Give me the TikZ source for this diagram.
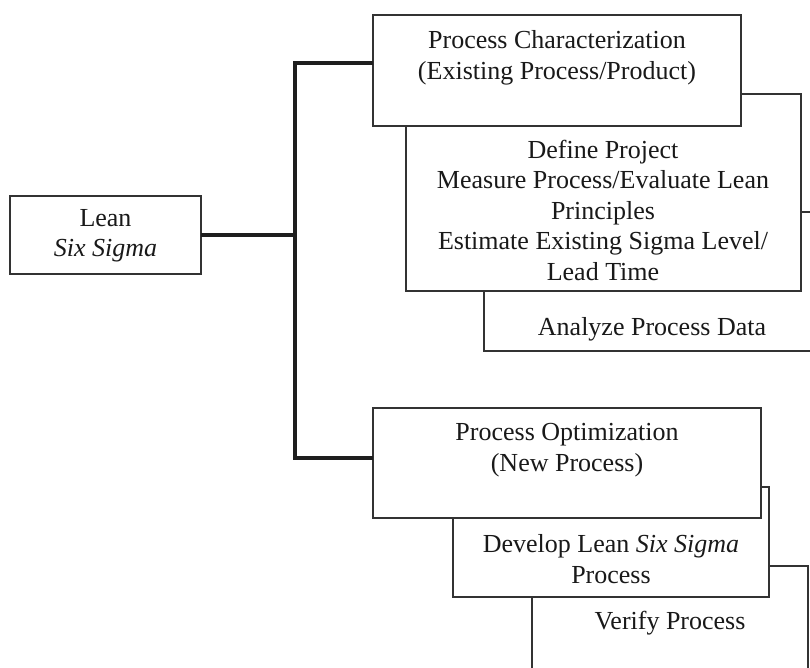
\documentclass[tikz,border=0pt]{standalone}
\usepackage{fontspec}
\setmainfont{Liberation Serif}
\definecolor{boxgray}{HTML}{333333}
\definecolor{conncol}{HTML}{1E1E1E}
\begin{document}
\begin{tikzpicture}[x=1pt,y=-1pt,
  box/.style={draw=boxgray, line width=2pt, fill=white, rectangle, anchor=north west, inner sep=0pt, outer sep=0pt},
  txt/.style={align=center, font=\fontsize{26}{30.5}\selectfont, text=black!90, inner sep=0pt},
  conn/.style={draw=conncol, line width=3.4pt, line join=miter}]
\useasboundingbox (0,0) rectangle (810,668);
\clip (0,0) rectangle (810,668);
% left box
\node[box, minimum width=191pt, minimum height=78pt] (lean) at (10,196) {};
% upper group (back to front)
\node[box, minimum width=400pt, minimum height=139pt] (ana) at (484,212) {};
\node[box, minimum width=395pt, minimum height=197pt] (def) at (406,94) {};
\node[box, minimum width=368pt, minimum height=111pt] (char) at (373,15) {};
% lower group (back to front)
\node[box, minimum width=276pt, minimum height=160pt] (ver) at (532,566) {};
\node[box, minimum width=316pt, minimum height=110pt] (dev) at (453,487) {};
\node[box, minimum width=388pt, minimum height=110pt] (opt) at (373,408) {};
% texts
\node[txt] (leanT) at (105.5,236) {Lean\\\textit{Six Sigma}};
\node[txt] (charT) at (557,58) {Process Characterization\\(Existing Process/Product)};
\node[txt] (defT) at (603,210) {Define Project\\Measure Process/Evaluate Lean\\Principles\\Estimate Existing Sigma Level/\\Lead Time};
\node[txt] (anaT) at (652,329) {Analyze Process Data};
\node[txt] (optT) at (567,450) {Process Optimization\\(New Process)};
\node[txt] (devT) at (611,559) {Develop Lean \textit{Six Sigma}\\Process};
\node[txt] (verT) at (670,623) {Verify Process};
% connectors
\coordinate (j) at (295,235);
\draw[conn] (lean.east) -- (j);
\draw[conn] ([yshift=7.5pt]char.west) -| (j) |- ([yshift=5pt]opt.west);
\end{tikzpicture}
\end{document}
